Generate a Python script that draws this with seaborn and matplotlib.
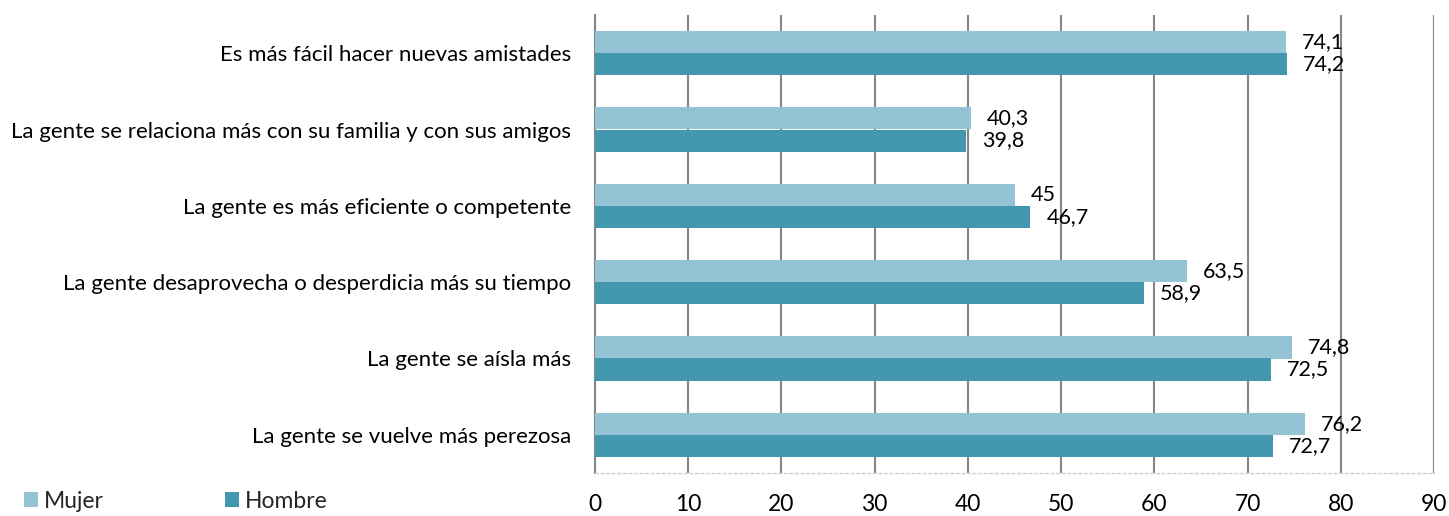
import matplotlib
matplotlib.use("Agg")
import matplotlib.pyplot as plt
import seaborn as sns
import pandas as pd
from matplotlib.ticker import FixedLocator
from matplotlib.patches import Patch

categories = [
    "Es más fácil hacer nuevas amistades",
    "La gente se relaciona más con su familia y con sus amigos",
    "La gente es más eficiente o competente",
    "La gente desaprovecha o desperdicia más su tiempo",
    "La gente se aísla más",
    "La gente se vuelve más perezosa",
]
mujer = [74.1, 40.3, 45, 63.5, 74.8, 76.2]
hombre = [74.2, 39.8, 46.7, 58.9, 72.5, 72.7]
series = ["Mujer", "Hombre"]
colors = ["#93C3D4", "#4398B0"]
xticks = [0, 10, 20, 30, 40, 50, 60, 70, 80, 90]

df = pd.DataFrame({
    "cat": categories * 2,
    "val": mujer + hombre,
    "sexo": ["Mujer"] * len(categories) + ["Hombre"] * len(categories),
})

sns.set_style("white")
plt.rcParams["font.family"] = ["Lato", "DejaVu Sans"]

fig = plt.figure(figsize=(14.49, 5.16), dpi=100)
ax = fig.add_axes([595 / 1449, 1 - 473 / 516, (1434 - 595) / 1449, (473 - 15) / 516])

sns.barplot(data=df, y="cat", x="val", hue="sexo", order=categories,
            hue_order=series, palette=colors, orient="h", width=0.58,
            saturation=1, ax=ax, legend=False, zorder=3, linewidth=0)

ax.set_xlim(0, 90)
ax.set_ylim(len(categories) - 0.5, -0.5)
ax.xaxis.set_major_locator(FixedLocator(xticks))
ax.grid(axis="x", color="#868686", linewidth=1.5, zorder=0)
ax.set_axisbelow(True)
ax.set_xlabel("")
ax.set_ylabel("")

for s in ["top", "right"]:
    ax.spines[s].set_visible(False)
ax.spines["left"].set_color("#868686")
ax.spines["left"].set_linewidth(1.5)
ax.spines["bottom"].set_color("#D0D0D0")
ax.spines["bottom"].set_linestyle((0, (2, 2)))
ax.spines["bottom"].set_linewidth(1)

ax.tick_params(axis="y", which="major", length=0, labelsize=16, pad=17, labelcolor="black")
ax.yaxis.set_minor_locator(FixedLocator([i - 0.5 for i in range(len(categories) + 1)]))
ax.tick_params(axis="y", which="minor", length=6, width=1.5, color="#868686")
ax.tick_params(axis="x", which="major", length=5, width=1, color="#D0D0D0",
               labelsize=16.5, pad=10, labelcolor="black")

def fmt(v):
    s = f"{v:.1f}".replace(".", ",")
    return s[:-2] if s.endswith(",0") else s

for cont in ax.containers:
    ax.bar_label(cont, labels=[fmt(b.get_width()) for b in cont], padding=11.5,
                 fontsize=15.5, color="black")

handles = [Patch(facecolor=c, edgecolor="none") for c in colors]
fig.legend(handles, series, loc="lower left", bbox_to_anchor=(3 / 1449, -0.032),
           ncol=2, frameon=False, fontsize=16.5, handlelength=0.61, handleheight=0.61,
           handletextpad=0.26, columnspacing=5.3)

fig.savefig("out.png", dpi=100)
